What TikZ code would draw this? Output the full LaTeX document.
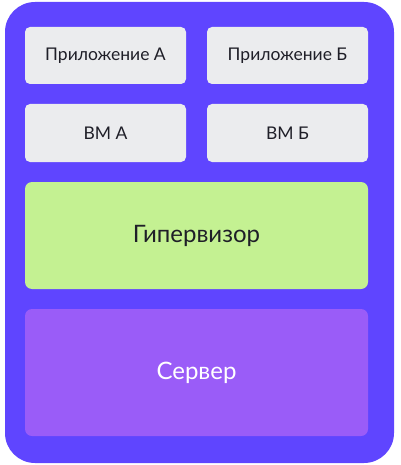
\documentclass[tikz,border=0pt]{standalone}
\usepackage{fontspec}
\setmainfont{Lato}
\definecolor{outerc}{HTML}{5F45FF}
\definecolor{greyc}{HTML}{EBECEE}
\definecolor{greenc}{HTML}{C4F192}
\definecolor{purplec}{HTML}{9A5CF8}
\definecolor{textc}{HTML}{1F1F28}
\begin{document}
\begin{tikzpicture}[x=1pt,y=-1pt,
  box/.style={fill=greyc,rounded corners=5pt,text=textc,font=\fontsize{17.5}{20}\selectfont},
  big/.style={rounded corners=7pt,font=\fontsize{24}{28}\selectfont}]
\useasboundingbox (0,0) rectangle (400,465);
\fill[outerc,rounded corners=30pt] (5,2) rectangle (394,463);
\path[box] (25,27) rectangle (186,84) node[midway] (appa) {Приложение А};
\path[box] (207,27) rectangle (368,84) node[midway] (appb) {Приложение Б};
\path[box] (25,104) rectangle (186,162) node[midway] (vma) {ВМ А};
\path[box] (207,104) rectangle (368,162) node[midway] (vmb) {ВМ Б};
\path[big,fill=greenc,text=textc] (25,182) rectangle (368,289) node[midway] (hyp) {Гипервизор};
\path[big,fill=purplec,text=white] (25,309) rectangle (368,436) node[midway] (srv) {Сервер};
\end{tikzpicture}
\end{document}
